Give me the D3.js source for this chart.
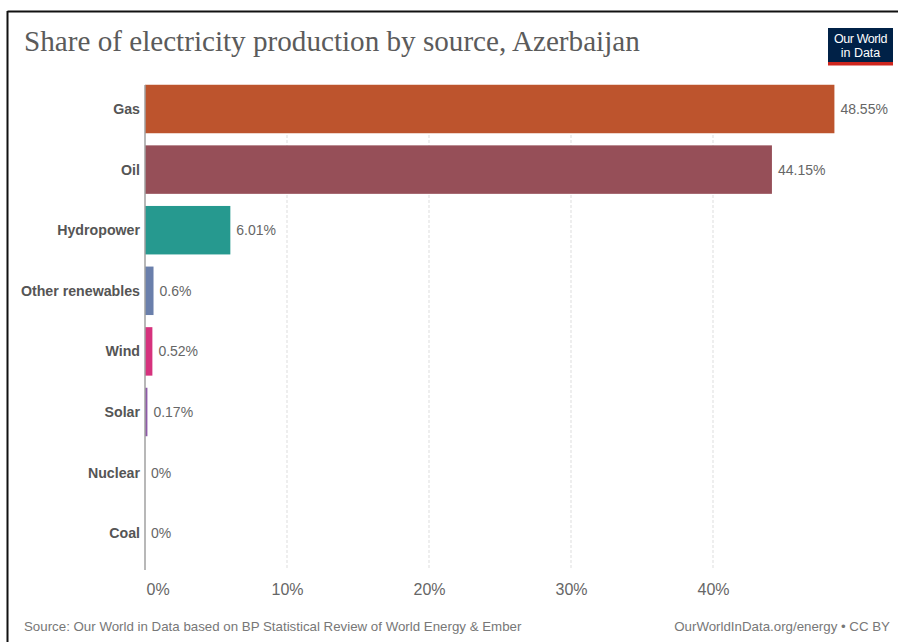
<!DOCTYPE html>
<html>
<head>
<meta charset="utf-8">
<script src="https://cdn.jsdelivr.net/npm/d3@7"></script>
<style>
  html, body { margin: 0; padding: 0; background: #fff; }
  svg { display: block; }
</style>
</head>
<body>
<svg id="chart" width="898" height="642"></svg>
<script>
const categories = ["Gas", "Oil", "Hydropower", "Other renewables", "Wind", "Solar", "Nuclear", "Coal"];
const values = [48.55, 44.15, 6.01, 0.6, 0.52, 0.17, 0, 0];
const valueLabels = ["48.55%", "44.15%", "6.01%", "0.6%", "0.52%", "0.17%", "0%", "0%"];
const colors = ["#bd542d", "#964f58", "#26998f", "#6a7fab", "#d6327d", "#8e5aa8", "#888888", "#888888"];
const tickValues = [0, 10, 20, 30, 40];
const tickLabels = ["0%", "10%", "20%", "30%", "40%"];
const title = "Share of electricity production by source, Azerbaijan";
const sourceText = "Source: Our World in Data based on BP Statistical Review of World Energy & Ember";
const licenseText = "OurWorldInData.org/energy • CC BY";

const svg = d3.select("#chart");
const sans = "'Liberation Sans', Arial, Helvetica, sans-serif";

// frame (top and left border)
svg.append("line").attr("x1", 7.5).attr("x2", 898).attr("y1", 11.5).attr("y2", 11.5)
  .attr("stroke", "#111").attr("stroke-width", 2);
svg.append("line").attr("x1", 7.5).attr("x2", 7.5).attr("y1", 11).attr("y2", 642)
  .attr("stroke", "#111").attr("stroke-width", 2);

// title
const t = svg.append("text").attr("x", 24).attr("y", 51)
  .attr("font-family", "'Liberation Serif', 'DejaVu Serif', Georgia, serif")
  .attr("font-size", 26).attr("fill", "#5b5b5b").text(title);
const tl = t.node().getComputedTextLength();
t.attr("font-size", 26 * 616 / tl);

// logo
const logo = svg.append("g").attr("transform", "translate(828,28)");
logo.append("rect").attr("width", 65).attr("height", 37).attr("fill", "#002147");
logo.append("rect").attr("y", 34).attr("width", 65).attr("height", 3.5).attr("fill", "#ce261e");
logo.append("text").attr("x", 32.5).attr("y", 15).attr("text-anchor", "middle")
  .attr("font-family", sans).attr("font-size", 12.5).attr("fill", "#fff").attr("letter-spacing", -0.4).text("Our World");
logo.append("text").attr("x", 32.5).attr("y", 29).attr("text-anchor", "middle")
  .attr("font-family", sans).attr("font-size", 12.5).attr("fill", "#fff").text("in Data");

// scales
const x = d3.scaleLinear().domain([0, 10]).range([145, 287]);
const y = d3.scaleBand().domain(categories).range([78.7, 563.5]).paddingInner(0.2).paddingOuter(0.1);

// gridlines
const gridTop = 85, gridBottom = 570;
svg.append("g").selectAll("line").data(tickValues.filter(d => d > 0)).join("line")
  .attr("x1", d => x(d)).attr("x2", d => x(d))
  .attr("y1", gridTop).attr("y2", gridBottom)
  .attr("stroke", "#dddddd").attr("stroke-dasharray", "3,2").attr("stroke-width", 1);

// axis labels
const axis = d3.axisBottom(x).tickValues(tickValues).tickFormat((d, i) => tickLabels[i]).tickSize(0);
const ax = svg.append("g").attr("transform", "translate(0,578)").call(axis);
ax.select(".domain").remove();
ax.selectAll("text").attr("font-family", sans).attr("font-size", 16).attr("fill", "#666")
  .attr("dy", "0.9em");
ax.selectAll("text").filter(d => d === 0).attr("text-anchor", "start").attr("x", 1);

// bars
const data = categories.map((c, i) => ({ c, v: values[i], label: valueLabels[i], color: colors[i] }));
const bh = y.bandwidth();
svg.append("g").selectAll("rect").data(data).join("rect")
  .attr("x", x(0)).attr("y", d => y(d.c))
  .attr("width", d => x(d.v) - x(0)).attr("height", bh)
  .attr("fill", d => d.color);

// zero line
svg.append("line").attr("x1", x(0)).attr("x2", x(0)).attr("y1", gridTop).attr("y2", gridBottom)
  .attr("stroke", "#a0a0a0").attr("stroke-width", 1.5);

// category labels
svg.append("g").selectAll("text").data(data).join("text")
  .attr("x", 140).attr("y", d => y(d.c) + bh / 2).attr("dy", "0.35em")
  .attr("text-anchor", "end").attr("font-family", sans).attr("font-weight", "bold")
  .attr("font-size", 14.2).attr("fill", "#555").text(d => d.c);

// value labels
svg.append("g").selectAll("text").data(data).join("text")
  .attr("x", d => x(d.v) + 6).attr("y", d => y(d.c) + bh / 2).attr("dy", "0.35em")
  .attr("font-family", sans).attr("font-size", 14).attr("fill", "#666").text(d => d.label);

// footer
svg.append("text").attr("x", 24).attr("y", 631).attr("font-family", sans).attr("font-size", 13.3)
  .attr("fill", "#777").text(sourceText);
svg.append("text").attr("x", 890).attr("y", 631).attr("text-anchor", "end").attr("font-family", sans)
  .attr("font-size", 13.3).attr("fill", "#777").text(licenseText);
</script>
</body>
</html>
